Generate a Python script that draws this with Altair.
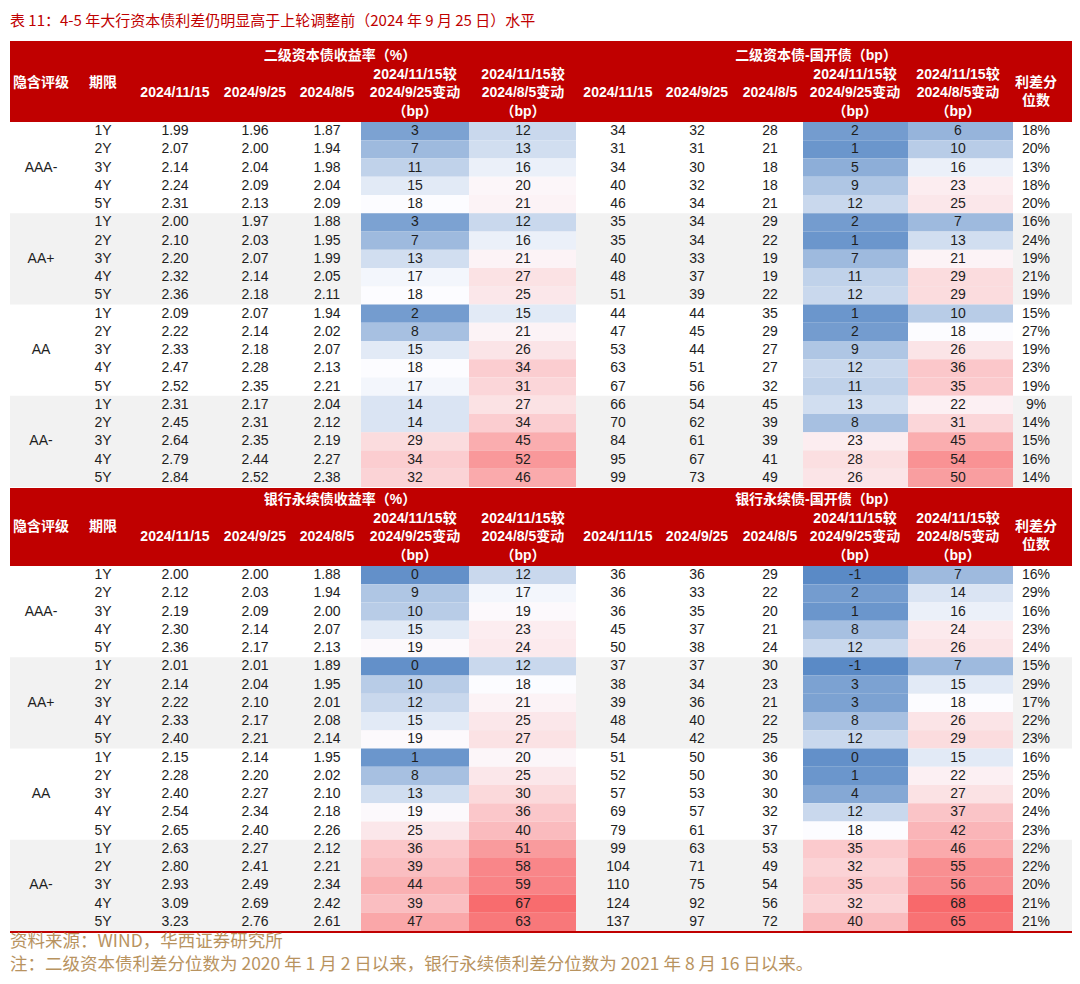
import altair as alt
import pandas as pd
import numpy as np

# ---------------- text ----------------
title = "表 11：4-5 年大行资本债利差仍明显高于上轮调整前（2024 年 9 月 25 日）水平"
source = "资料来源：WIND，华西证券研究所"
note = "注：二级资本债利差分位数为 2020 年 1 月 2 日以来，银行永续债利差分位数为 2021 年 8 月 16 日以来。"

ratings = ["AAA-", "AA+", "AA", "AA-"]
tenors = ["1Y", "2Y", "3Y", "4Y", "5Y"]
dates = ["2024/11/15", "2024/9/25", "2024/8/5"]
group_titles = [["二级资本债收益率（%）", "二级资本债-国开债（bp）"],
                ["银行永续债收益率（%）", "银行永续债-国开债（bp）"]]
hdr_rating = "隐含评级"
hdr_tenor = "期限"
hdr_chg1 = ["2024/11/15较", "2024/9/25变动", "（bp）"]
hdr_chg2 = ["2024/11/15较", "2024/8/5变动", "（bp）"]
hdr_pct = ["利差分", "位数"]

# ---------------- block 1: 二级资本债 ----------------
b1_y_1115 = [1.99, 2.07, 2.14, 2.24, 2.31, 2.00, 2.10, 2.20, 2.32, 2.36,
             2.09, 2.22, 2.33, 2.47, 2.52, 2.31, 2.45, 2.64, 2.79, 2.84]
b1_y_0925 = [1.96, 2.00, 2.04, 2.09, 2.13, 1.97, 2.03, 2.07, 2.14, 2.18,
             2.07, 2.14, 2.18, 2.28, 2.35, 2.17, 2.31, 2.35, 2.44, 2.52]
b1_y_0805 = [1.87, 1.94, 1.98, 2.04, 2.09, 1.88, 1.95, 1.99, 2.05, 2.11,
             1.94, 2.02, 2.07, 2.13, 2.21, 2.04, 2.12, 2.19, 2.27, 2.38]
b1_yc_0925 = [3, 7, 11, 15, 18, 3, 7, 13, 17, 18, 2, 8, 15, 18, 17, 14, 14, 29, 34, 32]
b1_yc_0805 = [12, 13, 16, 20, 21, 12, 16, 21, 27, 25, 15, 21, 26, 34, 31, 27, 34, 45, 52, 46]
b1_s_1115 = [34, 31, 34, 40, 46, 35, 35, 40, 48, 51, 44, 47, 53, 63, 67, 66, 70, 84, 95, 99]
b1_s_0925 = [32, 31, 30, 32, 34, 34, 34, 33, 37, 39, 44, 45, 44, 51, 56, 54, 62, 61, 67, 73]
b1_s_0805 = [28, 21, 18, 18, 21, 29, 22, 19, 19, 22, 35, 29, 27, 27, 32, 45, 39, 39, 41, 49]
b1_sc_0925 = [2, 1, 5, 9, 12, 2, 1, 7, 11, 12, 1, 2, 9, 12, 11, 13, 8, 23, 28, 26]
b1_sc_0805 = [6, 10, 16, 23, 25, 7, 13, 21, 29, 29, 10, 18, 26, 36, 35, 22, 31, 45, 54, 50]
b1_pct = [18, 20, 13, 18, 20, 16, 24, 19, 21, 19, 15, 27, 19, 23, 19, 9, 14, 15, 16, 14]

# ---------------- block 2: 银行永续债 ----------------
b2_y_1115 = [2.00, 2.12, 2.19, 2.30, 2.36, 2.01, 2.14, 2.22, 2.33, 2.40,
             2.15, 2.28, 2.40, 2.54, 2.65, 2.63, 2.80, 2.93, 3.09, 3.23]
b2_y_0925 = [2.00, 2.03, 2.09, 2.14, 2.17, 2.01, 2.04, 2.10, 2.17, 2.21,
             2.14, 2.20, 2.27, 2.34, 2.40, 2.27, 2.41, 2.49, 2.69, 2.76]
b2_y_0805 = [1.88, 1.94, 2.00, 2.07, 2.13, 1.89, 1.95, 2.01, 2.08, 2.14,
             1.95, 2.02, 2.10, 2.18, 2.26, 2.12, 2.21, 2.34, 2.42, 2.61]
b2_yc_0925 = [0, 9, 10, 15, 19, 0, 10, 12, 15, 19, 1, 8, 13, 19, 25, 36, 39, 44, 39, 47]
b2_yc_0805 = [12, 17, 19, 23, 24, 12, 18, 21, 25, 27, 20, 25, 30, 36, 40, 51, 58, 59, 67, 63]
b2_s_1115 = [36, 36, 36, 45, 50, 37, 38, 39, 48, 54, 51, 52, 57, 69, 79, 99, 104, 110, 124, 137]
b2_s_0925 = [36, 33, 35, 37, 38, 37, 34, 36, 40, 42, 50, 50, 53, 57, 61, 63, 71, 75, 92, 97]
b2_s_0805 = [29, 22, 20, 21, 24, 30, 23, 21, 22, 25, 36, 30, 30, 32, 37, 53, 49, 54, 56, 72]
b2_sc_0925 = [-1, 2, 1, 8, 12, -1, 3, 3, 8, 12, 0, 1, 4, 12, 18, 35, 32, 35, 32, 40]
b2_sc_0805 = [7, 14, 16, 24, 26, 7, 15, 18, 26, 29, 15, 22, 27, 37, 42, 46, 55, 56, 68, 65]
b2_pct = [16, 29, 16, 23, 24, 15, 29, 17, 22, 23, 16, 25, 20, 24, 23, 22, 22, 20, 21, 21]

blocks = [
    [b1_y_1115, b1_y_0925, b1_y_0805, b1_yc_0925, b1_yc_0805,
     b1_s_1115, b1_s_0925, b1_s_0805, b1_sc_0925, b1_sc_0805, b1_pct],
    [b2_y_1115, b2_y_0925, b2_y_0805, b2_yc_0925, b2_yc_0805,
     b2_s_1115, b2_s_0925, b2_s_0805, b2_sc_0925, b2_sc_0805, b2_pct],
]

# ---------------- layout (page pixel units) ----------------
W, H = 1064, 966
X0, Y0 = 8, 8
col_edges = [10, 72, 135, 215, 295, 361, 469, 576, 657, 737, 803, 908, 1013, 1074]
text_x = [41, 103, 175, 255, 327, 415, 523, 618, 697, 770, 855, 958, 1036]
hdr_top = [41, 488]
data_top = [122, 566]
row_h = 18.25
group_title_x = [340, 816]
heat_cols = [5, 6, 10, 11]
RED = "#c00000"
FONT = "Liberation Sans, Noto Sans CJK SC"


def fmt(ci, v):
    if ci in (2, 3, 4):
        return f"{v:.2f}"
    if ci == 12:
        return f"{v}%"
    return f"{v}"


cells, heat, bands, hdr_rects, hdr_text = [], [], [], [], []
for b, arrs in enumerate(blocks):
    top = data_top[b]
    for r in range(20):
        yc = top + row_h * (r + 0.5)
        cells.append(dict(x=text_x[1], y=yc, label=tenors[r % 5]))
        if r % 5 == 2:
            cells.append(dict(x=text_x[0], y=yc, label=ratings[r // 5]))
        for k, arr in enumerate(arrs):
            ci = k + 2
            cells.append(dict(x=text_x[ci], y=yc, label=fmt(ci, arr[r])))
            if ci in heat_cols:
                heat.append(dict(x1=col_edges[ci], x2=col_edges[ci + 1],
                                 y1=top + row_h * r, y2=top + row_h * (r + 1), v=arr[r]))
    for g in (1, 3):
        bands.append(dict(x1=col_edges[0], x2=col_edges[-1],
                          y1=top + row_h * 5 * g, y2=top + row_h * 5 * (g + 1)))
    hdr_rects.append(dict(x1=col_edges[0], x2=col_edges[-1], y1=hdr_top[b], y2=top))
    hb = top
    hdr_text.append(dict(x=text_x[0], y=hb - 39, label=hdr_rating))
    hdr_text.append(dict(x=text_x[1], y=hb - 39, label=hdr_tenor))
    hdr_text.append(dict(x=group_title_x[0], y=hb - 66, label=group_titles[b][0]))
    hdr_text.append(dict(x=group_title_x[1], y=hb - 66, label=group_titles[b][1]))
    for ci, d in zip([2, 3, 4, 7, 8, 9], dates + dates):
        hdr_text.append(dict(x=text_x[ci], y=hb - 29, label=d))
    for ci, lines in ((5, hdr_chg1), (6, hdr_chg2), (10, hdr_chg1), (11, hdr_chg2)):
        for off, t in zip((-47, -29, -10), lines):
            hdr_text.append(dict(x=text_x[ci], y=hb + off, label=t))
    hdr_text.append(dict(x=text_x[12], y=hb - 39, label=hdr_pct[0]))
    hdr_text.append(dict(x=text_x[12], y=hb - 21, label=hdr_pct[1]))

cells = pd.DataFrame(cells)
heat = pd.DataFrame(heat)
bands = pd.DataFrame(bands)
hdr_rects = pd.DataFrame(hdr_rects)
hdr_text = pd.DataFrame(hdr_text)
titles = pd.DataFrame([dict(x=10, y=21, label=title)])
foot = pd.DataFrame([dict(x=10, y=942, label=source), dict(x=10, y=965, label=note)])
rules = pd.DataFrame([dict(x1=col_edges[0], x2=col_edges[-1], y=data_top[1] + row_h * 20 + 1)])

allv = np.array([v for b in blocks for k in (3, 4, 8, 9) for v in b[k]])
cdom = [float(allv.min()), float(np.median(allv)), float(allv.max())]

xs = alt.Scale(domain=[X0, X0 + W], nice=False, zero=False)
ys = alt.Scale(domain=[Y0, Y0 + H], nice=False, zero=False, reverse=True)


def XQ(f):
    return alt.X(f"{f}:Q", scale=xs, axis=None)


def YQ(f):
    return alt.Y(f"{f}:Q", scale=ys, axis=None)


band_layer = alt.Chart(bands).mark_rect(color="#f2f2f2").encode(
    x=XQ("x1"), x2="x2:Q", y=YQ("y1"), y2="y2:Q")
hdr_layer = alt.Chart(hdr_rects).mark_rect(color=RED).encode(
    x=XQ("x1"), x2="x2:Q", y=YQ("y1"), y2="y2:Q")
heat_layer = alt.Chart(heat).mark_rect().encode(
    x=XQ("x1"), x2="x2:Q", y=YQ("y1"), y2="y2:Q",
    color=alt.Color("v:Q", scale=alt.Scale(domain=cdom, range=["#5A8AC6", "#FCFCFF", "#F8696B"],
                                           interpolate="rgb"),
                    legend=None))
rule_layer = alt.Chart(rules).mark_rule(color=RED, strokeWidth=2).encode(
    x=XQ("x1"), x2="x2:Q", y=YQ("y"))
cell_text = alt.Chart(cells).mark_text(font=FONT, fontSize=14, color="#1e1e1e",
                                       baseline="middle", align="center").encode(
    x=XQ("x"), y=YQ("y"), text="label:N")
hdr_txt = alt.Chart(hdr_text).mark_text(font=FONT, fontSize=14, fontWeight="bold", color="white",
                                        baseline="middle", align="center").encode(
    x=XQ("x"), y=YQ("y"), text="label:N")
title_txt = alt.Chart(titles).mark_text(font="Noto Sans CJK SC", fontSize=15, color=RED,
                                        baseline="middle", align="left").encode(
    x=XQ("x"), y=YQ("y"), text="label:N")
foot_txt = alt.Chart(foot).mark_text(font="Noto Sans CJK SC", fontSize=17.5, color="#b8935f",
                                     baseline="middle", align="left").encode(
    x=XQ("x"), y=YQ("y"), text="label:N")

chart = alt.layer(band_layer, hdr_layer, heat_layer, rule_layer, cell_text, hdr_txt,
                  title_txt, foot_txt).properties(
    width=W, height=H, padding=0, autosize=alt.AutoSizeParams(type="none")
).configure_view(stroke=None)

chart.save("out.html", embed_options={"renderer": "svg", "actions": False})
